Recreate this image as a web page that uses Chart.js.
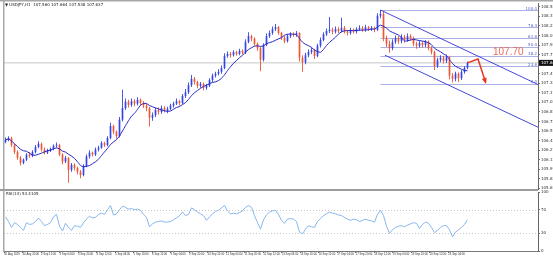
<!DOCTYPE html>
<html>
<head>
<meta charset="utf-8">
<script src="https://cdn.jsdelivr.net/npm/chart.js@4.4.1/dist/chart.umd.min.js"></script>
<style>
  html, body { margin: 0; padding: 0; background: #fff; }
  #wrap { position: relative; width: 553px; height: 259px; overflow: hidden; background: #fff; }
  #price { position: absolute; left: 0; top: 0; }
  #rsi { position: absolute; left: 0; top: 190px; }
</style>
</head>
<body>
<div id="wrap">
  <canvas id="price" width="553" height="191"></canvas>
  <canvas id="rsi" width="553" height="69"></canvas>
</div>
<script>
// USDJPY candles (open = previous close)
const firstOpen = 106.40;
const closes = [
  106.43, 106.46, 106.35, 106.24, 106.15, 106.07, 106.12, 106.20, 106.18, 106.24,
  106.32, 106.37, 106.28, 106.23, 106.26, 106.29, 106.34, 106.35, 106.20, 106.09,
  106.15, 105.96, 106.04, 105.99, 105.93, 105.88, 106.02, 106.17, 106.23, 106.20,
  106.28, 106.31, 106.38, 106.35, 106.46, 106.65, 106.56, 106.49, 106.75, 106.93,
  107.03, 106.98, 107.04, 107.00, 107.06, 107.01, 106.97, 106.93, 106.78, 106.82,
  106.90, 106.87, 106.93, 106.89, 106.92, 106.97, 107.00, 107.04, 107.01, 107.12,
  107.18, 107.29, 107.39, 107.34, 107.28, 107.31, 107.25, 107.28, 107.37, 107.44,
  107.47, 107.50, 107.56, 107.75, 107.78, 107.76, 107.81, 107.78, 107.83, 107.80,
  107.97, 108.06, 108.02, 107.94, 107.87, 107.69, 107.92, 108.06, 108.11, 108.17,
  108.20, 108.11, 108.03, 107.98, 108.06, 108.09, 108.08, 108.11, 107.72, 107.65,
  107.76, 107.81, 107.84, 107.75, 107.91, 108.00, 108.09, 108.14, 108.16, 108.13,
  108.17, 108.14, 108.19, 108.13, 108.11, 108.16, 108.13, 108.17, 108.19, 108.16,
  108.20, 108.17, 108.19, 108.16, 108.38, 108.41, 108.03, 107.94, 107.87, 107.97,
  108.03, 107.98, 108.05, 108.00, 108.06, 108.03, 107.94, 107.91, 107.95, 107.92,
  107.97, 107.87, 107.81, 107.59, 107.69, 107.72, 107.67, 107.73, 107.44, 107.39,
  107.47, 107.40, 107.50, 107.56, 107.64
];
const highs = [
  106.47, 106.49, 106.48, 106.37, 106.27, 106.18, 106.14, 106.22, 106.24, 106.27,
  106.35, 106.41, 106.39, 106.31, 106.29, 106.31, 106.36, 106.39, 106.37, 106.22,
  106.18, 106.16, 106.07, 106.06, 106.01, 105.96, 106.05, 106.20, 106.27, 106.25,
  106.31, 106.34, 106.41, 106.40, 106.49, 106.70, 106.67, 106.58, 106.79, 107.22,
  107.08, 107.06, 107.08, 107.07, 107.10, 107.08, 107.04, 107.00, 106.95, 106.86,
  106.93, 106.94, 106.97, 106.96, 106.95, 107.00, 107.03, 107.08, 107.06, 107.15,
  107.23, 107.33, 107.45, 107.42, 107.36, 107.34, 107.33, 107.31, 107.40, 107.47,
  107.50, 107.54, 107.60, 107.79, 107.82, 107.81, 107.84, 107.83, 107.86, 107.85,
  108.01, 108.12, 108.08, 108.04, 107.96, 107.89, 107.95, 108.10, 108.15, 108.21,
  108.25, 108.22, 108.13, 108.06, 108.09, 108.12, 108.12, 108.14, 108.12, 107.76,
  107.80, 107.85, 107.88, 107.86, 107.94, 108.04, 108.12, 108.18, 108.36, 108.19,
  108.21, 108.20, 108.35, 108.22, 108.16, 108.19, 108.18, 108.20, 108.23, 108.22,
  108.24, 108.22, 108.22, 108.21, 108.42, 108.47, 108.44, 108.07, 107.99, 108.01,
  108.07, 108.06, 108.09, 108.08, 108.10, 108.09, 108.05, 107.97, 107.99, 107.98,
  108.00, 107.99, 107.90, 107.83, 107.72, 107.76, 107.75, 107.77, 107.75, 107.48,
  107.50, 107.49, 107.53, 107.59, 107.66
];
const lows = [
  106.38, 106.41, 106.32, 106.21, 106.12, 106.03, 106.05, 106.10, 106.15, 106.16,
  106.22, 106.30, 106.25, 106.20, 106.21, 106.24, 106.27, 106.31, 106.18, 106.05,
  106.07, 105.76, 105.93, 105.95, 105.89, 105.83, 105.86, 106.00, 106.14, 106.17,
  106.18, 106.25, 106.29, 106.32, 106.33, 106.44, 106.52, 106.45, 106.47, 106.72,
  106.90, 106.94, 106.95, 106.96, 106.97, 106.98, 106.93, 106.88, 106.64, 106.73,
  106.79, 106.83, 106.84, 106.86, 106.85, 106.90, 106.94, 106.98, 106.97, 106.99,
  107.09, 107.15, 107.26, 107.30, 107.24, 107.25, 107.21, 107.22, 107.26, 107.34,
  107.41, 107.44, 107.47, 107.54, 107.72, 107.72, 107.74, 107.75, 107.76, 107.77,
  107.78, 107.95, 107.98, 107.91, 107.83, 107.51, 107.66, 107.90, 108.03, 108.08,
  108.14, 108.08, 108.00, 107.95, 107.96, 108.03, 108.05, 108.05, 107.66, 107.50,
  107.62, 107.73, 107.78, 107.70, 107.73, 107.88, 107.98, 108.06, 108.11, 108.09,
  108.10, 108.11, 108.12, 108.10, 108.07, 108.08, 108.10, 108.10, 108.14, 108.13,
  108.13, 108.14, 108.14, 108.12, 108.14, 108.34, 107.98, 107.89, 107.80, 107.84,
  107.94, 107.94, 107.95, 107.96, 107.97, 107.99, 107.90, 107.86, 107.88, 107.88,
  107.89, 107.84, 107.77, 107.53, 107.56, 107.65, 107.63, 107.64, 107.38, 107.33,
  107.35, 107.34, 107.37, 107.47, 107.54
];
const rsiValues = [
  58, 50, 40, 48, 45, 40, 35, 48, 45, 46,
  50, 56, 50, 43, 45, 48, 58, 62, 42, 34,
  47, 40, 35, 43, 42, 40, 48, 54, 59, 56,
  57, 62, 64, 62, 70, 77, 61, 63, 70, 76,
  74, 71, 72, 70, 71, 69, 62, 57, 41, 46,
  49, 50, 51, 49, 49, 50, 53, 56, 60, 66,
  60, 62, 73, 70, 66, 63, 60, 52, 58, 63,
  67, 69, 73, 77, 68, 63, 64, 63, 65, 68,
  74, 77, 74, 60, 48, 37, 53, 61, 66, 68,
  69, 62, 52, 47, 54, 55, 54, 50, 32, 29,
  37, 43, 41, 40, 50, 55, 60, 63, 66, 64,
  63, 61, 60, 57, 54, 52, 54, 53, 50, 52,
  54, 52, 51, 49, 62, 69, 60, 42, 30, 36,
  40, 42, 43, 41, 44, 46, 48, 47, 38, 45,
  49, 47, 40, 31, 35, 40, 43, 43, 36, 24,
  32, 36, 40, 45, 53
];

const timeLabels = [
  '30 Aug 2019', '30 Aug 20:00', '2 Sep 12:00', '3 Sep 04:00', '3 Sep 20:00',
  '4 Sep 12:00', '5 Sep 04:00', '5 Sep 20:00', '6 Sep 12:00', '9 Sep 04:00',
  '9 Sep 20:00', '10 Sep 12:00', '11 Sep 04:00', '11 Sep 20:00', '12 Sep 12:00',
  '13 Sep 04:00', '13 Sep 20:00', '16 Sep 12:00', '17 Sep 04:00', '17 Sep 20:00',
  '18 Sep 12:00', '19 Sep 04:00', '19 Sep 20:00', '20 Sep 12:00', '23 Sep 04:00'
];
const priceTicks = [
  108.52, 108.37, 108.22, 108.07, 107.92, 107.77, 107.62, 107.47, 107.32, 107.17,
  107.02, 106.87, 106.72, 106.57, 106.42, 106.27, 106.12, 105.97, 105.82, 105.67
];
const rsiTicks = [0, 30, 70, 100];
const rsiLevels = [70, 30];

// analysis drawn on the chart
const fibLevels = [100, 76.4, 61.8, 50, 38.2, 23.6, 0];
const fibHigh = 108.47;
const fibLow = 107.31;
const fibStart = 125;
const channelUpper = [{ x: 125, y: 108.47 }, { x: 177.5, y: 107.30 }];
const channelLower = [{ x: 126.5, y: 107.76 }, { x: 177.5, y: 106.63 }];
const forecast = [{ x: 154, y: 107.64 }, { x: 157.5, y: 107.70 }, { x: 160, y: 107.34 }];
const target = { text: '107.70', x: 162.5, y: 107.80 };

const maPeriod = 8;
const shiftBars = 23;
const barsPerLabel = 6.17;

const BULL = '#3646e4';
const BEAR = '#ee5634';
const FONT = 'DejaVu Sans';

const opens = [firstOpen].concat(closes.slice(0, -1));
const lastClose = closes[closes.length - 1];
const xMin = -0.5;
const xMax = closes.length + shiftBars - 0.5;
const candleColors = closes.map((c, i) => (c >= opens[i] ? BULL : BEAR));

function sma(values, period) {
    return values.map((_, i) => {
        const win = values.slice(Math.max(0, i - period + 1), i + 1);
        return win.reduce((s, v) => s + v, 0) / win.length;
    });
}
const ma = sma(closes, maPeriod);

const pricePanel = {
    id: 'pricePanel',
    beforeDatasetsDraw(chart) {
        const { ctx, chartArea: a, scales: { x, y } } = chart;
        ctx.save();
        ctx.strokeStyle = '#aab1e6';
        ctx.lineWidth = 1;
        const x0 = x.getPixelForValue(fibStart);
        fibLevels.forEach(lv => {
            const py = Math.round(y.getPixelForValue(fibLow + (fibHigh - fibLow) * lv / 100)) + 0.5;
            ctx.beginPath();
            ctx.moveTo(x0, py);
            ctx.lineTo(a.right, py);
            ctx.stroke();
        });
        ctx.restore();
    },
    afterDraw(chart) {
        const { ctx, chartArea: a, scales: { x, y } } = chart;
        ctx.save();
        // frame
        ctx.fillStyle = '#a8a8a8';
        ctx.fillRect(0, 0, chart.width, 1.5);
        ctx.fillRect(3, 0, 1.5, chart.height);
        ctx.fillStyle = '#9c9c9c';
        ctx.fillRect(0, a.bottom, a.right, 2);

        // fib labels
        ctx.font = '4px ' + FONT;
        ctx.fillStyle = '#5a64c8';
        ctx.textAlign = 'right';
        ctx.textBaseline = 'bottom';
        fibLevels.forEach(lv => {
            const py = y.getPixelForValue(fibLow + (fibHigh - fibLow) * lv / 100);
            ctx.fillText(lv.toFixed(1), a.right - 1, py + 0.5);
        });

        // arrow head of the forecast
        const p1 = forecast[forecast.length - 2], p2 = forecast[forecast.length - 1];
        const ax = x.getPixelForValue(p2.x), ay = y.getPixelForValue(p2.y);
        const ang = Math.atan2(ay - y.getPixelForValue(p1.y), ax - x.getPixelForValue(p1.x));
        ctx.fillStyle = '#e8351e';
        ctx.beginPath();
        ctx.moveTo(ax + Math.cos(ang) * 2, ay + Math.sin(ang) * 2);
        ctx.lineTo(ax - Math.cos(ang) * 4 + Math.sin(ang) * 2.5, ay - Math.sin(ang) * 4 - Math.cos(ang) * 2.5);
        ctx.lineTo(ax - Math.cos(ang) * 4 - Math.sin(ang) * 2.5, ay - Math.sin(ang) * 4 + Math.cos(ang) * 2.5);
        ctx.closePath();
        ctx.fill();

        // target text
        ctx.font = '10px "Liberation Sans"';
        ctx.fillStyle = '#f06a55';
        ctx.textAlign = 'left';
        ctx.textBaseline = 'middle';
        ctx.fillText(target.text, x.getPixelForValue(target.x), y.getPixelForValue(target.y));

        // current price box
        const cy = y.getPixelForValue(lastClose);
        ctx.fillStyle = '#111';
        ctx.fillRect(a.right + 1, cy - 3, chart.width - a.right - 1, 6);
        ctx.font = '4px ' + FONT;
        ctx.fillStyle = '#fff';
        ctx.fillText(lastClose.toFixed(2), a.right + 3, cy + 0.3);

        // title
        ctx.fillStyle = '#222';
        ctx.font = '4px ' + FONT;
        ctx.fillText('\u25BC USDJPY,H1  107.560 107.664 107.538 107.637', 5, 4.5);
        ctx.restore();
    }
};

const rsiPanel = {
    id: 'rsiPanel',
    beforeDatasetsDraw(chart) {
        const { ctx, chartArea: a, scales: { y } } = chart;
        ctx.save();
        ctx.strokeStyle = '#c8c8c8';
        ctx.lineWidth = 1;
        ctx.setLineDash([1, 2]);
        rsiLevels.forEach(lv => {
            const py = Math.round(y.getPixelForValue(lv)) + 0.5;
            ctx.beginPath();
            ctx.moveTo(a.left, py);
            ctx.lineTo(a.right, py);
            ctx.stroke();
        });
        ctx.restore();
    },
    afterDraw(chart) {
        const { ctx } = chart;
        ctx.save();
        ctx.fillStyle = '#a8a8a8';
        ctx.fillRect(3, 0, 1.5, chart.height - 7);
        ctx.fillStyle = '#222';
        ctx.font = '4px ' + FONT;
        ctx.textBaseline = 'middle';
        ctx.fillText('RSI(14) 53.4105', 6, 4);
        ctx.restore();
    }
};

new Chart(document.getElementById('price'), {
    type: 'bar',
    data: {
        datasets: [
            {
                type:            'bar',
                label:           'wicks',
                data:            closes.map((c, i) => ({ x: i, y: [lows[i], highs[i]] })),
                backgroundColor: candleColors,
                barThickness:    0.9,
                inflateAmount:   0,
                grouped:         false,
                order:           10,
            },
            {
                type:            'bar',
                label:           'bodies',
                data:            closes.map((c, i) => ({ x: i, y: [opens[i], c] })),
                backgroundColor: candleColors,
                barThickness:    1.7,
                inflateAmount:   0,
                minBarLength:    1,
                grouped:         false,
                order:           9,
            },
            {
                type:        'line',
                label:       'bid',
                data:        [{ x: xMin, y: lastClose }, { x: xMax, y: lastClose }],
                borderColor: '#c6c6c6',
                borderWidth: 1,
                pointRadius: 0,
                order:       12,
            },
            {
                type:        'line',
                label:       'MA',
                data:        ma.map((v, i) => ({ x: i, y: v })),
                borderColor: '#2626c4',
                borderWidth: 1,
                pointRadius: 0,
                tension:     0.2,
                order:       3,
            },
            {
                type:        'line',
                label:       'channel top',
                data:        channelUpper,
                borderColor: '#4646dc',
                borderWidth: 1,
                pointRadius: 0,
                order:       2,
            },
            {
                type:        'line',
                label:       'channel bottom',
                data:        channelLower,
                borderColor: '#4646dc',
                borderWidth: 1,
                pointRadius: 0,
                order:       2,
            },
            {
                type:        'line',
                label:       'forecast',
                data:        forecast,
                borderColor: '#e8351e',
                borderWidth: 1.5,
                pointRadius: 0,
                order:       1,
            },
        ],
    },
    options: {
        responsive: false,
        animation:  false,
        events:     [],
        layout: { padding: { left: 4, top: 3, right: 0, bottom: 2 } },
        plugins: { legend: { display: false }, tooltip: { enabled: false } },
        scales: {
            x: { type: 'linear', display: false, min: xMin, max: xMax, offset: false },
            y: {
                type:        'linear',
                position:    'right',
                min:         105.66,
                max:         108.58,
                beginAtZero: false,
                afterBuildTicks: s => { s.ticks = priceTicks.map(v => ({ value: v })); },
                afterFit: s => { s.width = 15; s.paddingTop = 0; s.paddingBottom = 0; },
                grid:   { drawOnChartArea: false, tickLength: 2, color: '#777' },
                border: { color: '#666' },
                ticks: {
                    autoSkip: false,
                    padding:  1,
                    color:    '#333',
                    font:     { size: 4, family: FONT },
                    callback: v => v.toFixed(2),
                },
            },
        },
    },
    plugins: [pricePanel],
});

new Chart(document.getElementById('rsi'), {
    type: 'line',
    data: {
        datasets: [{
            label:       'RSI(14)',
            data:        rsiValues.map((v, i) => ({ x: i, y: v })),
            borderColor: '#86b6ec',
            borderWidth: 1,
            pointRadius: 0,
        }],
    },
    options: {
        responsive: false,
        animation:  false,
        events:     [],
        layout: { padding: { left: 4, top: 2, right: 0, bottom: 0 } },
        plugins: { legend: { display: false }, tooltip: { enabled: false } },
        scales: {
            x: {
                type: 'linear',
                min:  xMin,
                max:  xMax,
                afterBuildTicks: s => { s.ticks = timeLabels.map((_, k) => ({ value: xMin + k * barsPerLabel })); },
                afterFit: s => { s.height = 8; s.paddingLeft = 0; s.paddingRight = 0; },
                grid:   { drawOnChartArea: false, tickLength: 2, color: '#777' },
                border: { color: '#777' },
                ticks: {
                    autoSkip:    false,
                    maxRotation: 0,
                    align:       'start',
                    padding:     0,
                    color:       '#333',
                    font:        { size: 2.8, family: 'Liberation Sans' },
                    callback:    (v, i) => timeLabels[i],
                },
            },
            y: {
                type:     'linear',
                position: 'right',
                min:      0,
                max:      100,
                afterBuildTicks: s => { s.ticks = rsiTicks.map(v => ({ value: v })); },
                afterFit: s => { s.width = 15; s.paddingTop = 0; s.paddingBottom = 0; },
                grid:   { drawOnChartArea: false, tickLength: 2, color: '#777' },
                border: { color: '#666' },
                ticks: {
                    autoSkip: false,
                    padding:  1,
                    color:    '#333',
                    font:     { size: 4, family: FONT },
                    callback: v => String(v),
                },
            },
        },
    },
    plugins: [rsiPanel],
});
</script>
</body>
</html>
